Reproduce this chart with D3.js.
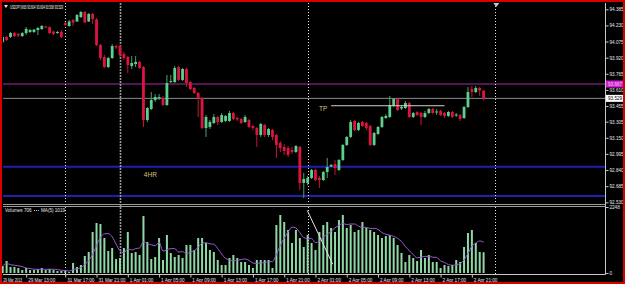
<!DOCTYPE html>
<html>
<head>
<meta charset="utf-8">
<script src="https://cdn.jsdelivr.net/npm/d3@7"></script>
<style>
body { margin: 0; background: #000; }
svg { display: block; }
text { font-family: "Liberation Sans", Arial, sans-serif; }
</style>
</head>
<body>
<script>
const width = 625;
const height = 284;

// USDJPY M30 candles, oldest first
const opens = [94.071,94.119,94.119,94.157,94.148,94.128,94.157,94.167,94.167,94.186,94.196,94.220,94.215,94.172,94.157,94.167,
  94.253,94.225,94.282,94.268,94.311,94.359,94.268,94.340,94.287,94.042,93.927,93.830,93.917,94.032,94.032,93.955,93.927,93.840,93.859,93.879,
  93.830,93.321,93.427,93.513,93.530,93.533,93.465,93.686,93.686,93.830,93.706,93.811,93.686,93.629,93.581,93.533,93.244,93.254,93.292,93.350,
  93.302,93.312,93.312,93.388,93.340,93.331,93.302,93.321,93.263,93.244,93.177,93.273,93.177,93.225,93.177,93.100,93.062,93.052,93.033,93.014,
  93.062,92.716,92.716,92.764,92.841,92.764,92.744,92.821,92.874,92.898,92.841,92.937,93.081,93.158,93.312,93.225,93.302,93.292,93.263,93.081,
  93.187,93.254,93.340,93.350,93.456,93.523,93.432,93.436,93.484,93.350,93.398,93.388,93.350,93.388,93.427,93.393,93.408,93.388,93.360,93.398,
  93.364,93.369,93.340,93.446,93.619,93.590,93.629,93.604];
const highs = [94.138,94.128,94.167,94.167,94.157,94.167,94.215,94.196,94.196,94.215,94.234,94.225,94.220,94.177,94.177,94.186,
  94.263,94.282,94.292,94.340,94.369,94.369,94.350,94.350,94.301,94.052,93.946,93.927,94.052,94.042,94.042,93.975,93.936,93.936,93.936,93.888,
  93.840,93.446,93.590,93.571,93.571,93.552,93.754,93.754,93.840,93.840,93.821,93.821,93.696,93.638,93.590,93.542,93.369,93.321,93.379,93.360,
  93.388,93.369,93.408,93.398,93.350,93.340,93.369,93.331,93.273,93.254,93.292,93.283,93.244,93.235,93.187,93.119,93.090,93.071,93.062,93.081,
  93.071,92.812,92.783,92.850,92.850,92.783,92.831,92.956,92.898,92.937,92.946,93.090,93.167,93.321,93.321,93.302,93.312,93.302,93.273,93.206,
  93.263,93.360,93.379,93.552,93.533,93.533,93.465,93.504,93.494,93.398,93.408,93.398,93.408,93.436,93.436,93.427,93.417,93.398,93.408,93.408,
  93.388,93.379,93.456,93.638,93.648,93.648,93.638,93.604];
const lows = [94.052,94.080,94.109,94.119,94.119,94.119,94.138,94.157,94.157,94.138,94.186,94.205,94.148,94.138,94.148,94.109,
  94.225,94.215,94.225,94.263,94.301,94.253,94.263,94.244,94.032,93.898,93.821,93.821,93.907,94.003,93.927,93.898,93.773,93.811,93.830,93.811,
  93.254,93.302,93.417,93.494,93.513,93.456,93.456,93.677,93.677,93.696,93.696,93.638,93.609,93.571,93.350,93.235,93.158,93.235,93.283,93.273,
  93.292,93.302,93.302,93.321,93.312,93.283,93.292,93.244,93.225,93.062,93.158,93.158,93.158,93.129,92.956,93.014,92.985,92.965,92.994,93.004,
  92.648,92.571,92.696,92.754,92.735,92.668,92.735,92.764,92.869,92.793,92.831,92.927,93.071,93.148,93.215,93.215,93.254,93.225,93.071,93.071,
  93.177,93.244,93.331,93.340,93.446,93.408,93.417,93.427,93.340,93.340,93.360,93.273,93.340,93.379,93.379,93.369,93.360,93.340,93.350,93.340,
  93.350,93.312,93.331,93.436,93.542,93.581,93.552,93.508];
const closes = [94.119,94.090,94.157,94.128,94.133,94.157,94.196,94.186,94.190,94.205,94.225,94.210,94.157,94.148,94.167,94.119,
  94.234,94.268,94.258,94.330,94.359,94.258,94.340,94.292,94.042,93.917,93.830,93.917,94.032,94.018,93.946,93.917,93.850,93.869,93.879,93.821,
  93.321,93.436,93.513,93.542,93.542,93.465,93.677,93.696,93.821,93.706,93.811,93.677,93.619,93.581,93.533,93.244,93.350,93.302,93.350,93.302,
  93.369,93.360,93.388,93.331,93.326,93.292,93.350,93.254,93.244,93.177,93.283,93.177,93.235,93.158,93.081,93.052,93.023,92.985,93.014,93.071,
  92.716,92.754,92.764,92.841,92.744,92.744,92.821,92.869,92.889,92.860,92.937,93.081,93.158,93.302,93.225,93.292,93.263,93.244,93.081,93.196,
  93.254,93.350,93.360,93.465,93.523,93.417,93.446,93.484,93.350,93.388,93.369,93.350,93.388,93.427,93.388,93.403,93.369,93.360,93.398,93.350,
  93.374,93.331,93.446,93.590,93.590,93.629,93.605,93.529];
const volumes = [238,409,204,204,170,102,170,102,102,136,170,102,136,102,68,68,
  68,34,341,204,272,579,715,1396,1703,1669,1192,749,851,477,511,851,1396,681,715,613,
  1941,1056,477,545,1192,443,1294,681,545,613,511,954,954,783,1192,1192,1022,783,715,443,
  272,272,511,613,511,375,375,272,170,443,443,443,443,170,1635,1975,1737,1465,1022,1465,
  1192,886,1294,1022,783,1396,1635,1737,1533,1396,1805,1975,1533,1635,1396,1465,1737,1533,1465,1396,
  1294,1192,1260,1294,1192,954,681,375,613,511,409,783,511,613,375,375,170,272,238,272,
  443,375,886,1362,1465,1022,715,706];

const timeTickIdx = [0, 6, 16, 24, 32, 40, 48, 56, 64, 72, 80, 88, 96, 104, 112, 120];
const timeTickLabels = ["29 Mar 2013", "29 Mar 13:00", "31 Mar 17:00", "31 Mar 21:00", "1 Apr 01:00", "1 Apr 05:00",
  "1 Apr 09:00", "1 Apr 13:00", "1 Apr 17:00", "1 Apr 21:00", "2 Apr 01:00", "2 Apr 05:00",
  "2 Apr 09:00", "2 Apr 13:00", "2 Apr 17:00", "2 Apr 21:00"];
const priceTicks = [94.385, 94.230, 94.075, 93.920, 93.765, 93.610, 93.455, 93.305, 93.150, 92.995, 92.840, 92.685, 92.530];
const separatorIdx = [16, 30, 78, 126];
const blueLevels = [92.872, 92.590];
const magentaLevel = 93.667;
const bidPrice = 93.529;
const tpLevel = 93.458;
const tpFrom = 84, tpTo = 113;
const trendPts = [[77.9, 2130], [84.4, 300]];

const bars = opens.map((o, i) => ({ i, o, h: highs[i], l: lows[i], c: closes[i], v: volumes[i] }));

const svg = d3.select("body").append("svg")
  .attr("width", width)
  .attr("height", height);

svg.append("rect").attr("width", width).attr("height", height).attr("fill", "#000");

const left = 3, right = 605;
const mainTop = 3, mainBottom = 203;
const volTop = 207, volBottom = 274;

const x = d3.scaleLinear().domain([0, 123]).range([2.7, 483.6]);
const y = d3.scaleLinear().domain([92.530, 94.385]).range([202.3, 9.3]);
const yv = d3.scaleLinear().domain([0, 2248]).range([273, 207]);

// clip for the price panel
svg.append("clipPath").attr("id", "mainClip")
  .append("rect").attr("x", left).attr("y", mainTop).attr("width", right - left).attr("height", mainBottom - mainTop);

// horizontal levels
svg.selectAll(".blue").data(blueLevels).enter().append("line")
  .attr("x1", left).attr("x2", right)
  .attr("y1", d => y(d)).attr("y2", d => y(d))
  .attr("stroke", "#1f1fb4").attr("stroke-width", 2);

svg.append("line")
  .attr("x1", left).attr("x2", right)
  .attr("y1", y(magentaLevel)).attr("y2", y(magentaLevel))
  .attr("stroke", "#a62ca6").attr("stroke-width", 1);

svg.append("line")
  .attr("x1", left).attr("x2", right)
  .attr("y1", y(bidPrice)).attr("y2", y(bidPrice))
  .attr("stroke", "#8c8c8c").attr("stroke-width", 1);

// period separators
svg.selectAll(".sep").data(separatorIdx).enter().append("line")
  .attr("x1", d => Math.round(x(d)) + 0.5).attr("x2", d => Math.round(x(d)) + 0.5)
  .attr("y1", mainTop).attr("y2", volBottom)
  .attr("stroke", d => d === 30 ? "#9a9a9a" : "#e6e6e6")
  .attr("stroke-width", d => d === 30 ? 1.6 : 1)
  .attr("stroke-dasharray", d => d === 30 ? "2,1" : "1,2");

// candles
const g = svg.append("g").attr("clip-path", "url(#mainClip)");
const bull = d => d.c >= d.o;

g.selectAll(".wick").data(bars).enter().append("line")
  .attr("x1", d => x(d.i)).attr("x2", d => x(d.i))
  .attr("y1", d => y(d.h)).attr("y2", d => y(d.l))
  .attr("stroke", d => bull(d) ? "#4f9e6c" : "#c8143a")
  .attr("stroke-width", 1);

g.selectAll(".body").data(bars).enter().append("rect")
  .attr("x", d => x(d.i) - 1.4)
  .attr("width", 2.8)
  .attr("y", d => y(Math.max(d.o, d.c)))
  .attr("height", d => Math.max(0.8, Math.abs(y(d.o) - y(d.c))))
  .attr("fill", d => bull(d) ? "#5ccf8a" : "#dc1440");

// TP line and notes
svg.append("line")
  .attr("x1", x(tpFrom)).attr("x2", x(tpTo))
  .attr("y1", y(tpLevel)).attr("y2", y(tpLevel))
  .attr("stroke", "#d0d0d0").attr("stroke-width", 1);

svg.append("text").text("TP")
  .attr("x", x(80.9)).attr("y", y(93.408))
  .attr("font-size", "6.5px").attr("fill", "#d6c77a");

svg.append("text").text("4HR")
  .attr("x", x(36.1)).attr("y", y(92.769))
  .attr("font-size", "6.5px").attr("fill", "#d6c77a");

// title
svg.append("path")
  .attr("d", "M4,5 L8,5 L6,8 Z")
  .attr("fill", "#e0e0e0");
svg.append("text").text("USDJPY,M30 93.604 93.604 93.508 93.529")
  .attr("x", 10).attr("y", 8.8)
  .attr("textLength", 53).attr("lengthAdjust", "spacingAndGlyphs")
  .attr("font-size", "5px").attr("fill", "#ffffff");

// chart shift marker
svg.append("path")
  .attr("d", `M${x(126) - 2},3 L${x(126) + 4},3 L${x(126) + 1},7 Z`)
  .attr("fill", "#c8c8c8");

// panel separator
svg.append("line").attr("x1", left).attr("x2", right).attr("y1", 204.5).attr("y2", 204.5).attr("stroke", "#9c9c9c");
svg.append("line").attr("x1", left).attr("x2", right).attr("y1", 206.5).attr("y2", 206.5).attr("stroke", "#9c9c9c");

// volumes
svg.selectAll(".vol").data(bars).enter().append("rect")
  .attr("x", d => x(d.i) - 1)
  .attr("width", 2)
  .attr("y", d => yv(d.v))
  .attr("height", d => yv(0) - yv(d.v))
  .attr("fill", "#8fd8a6");

const ma = bars.map((d, i) => ({ i, v: d3.mean(volumes.slice(Math.max(0, i - 4), i + 1)) }));
svg.append("path")
  .datum(ma)
  .attr("fill", "none")
  .attr("stroke", "#9a5ad2")
  .attr("stroke-width", 1)
  .attr("d", d3.line().x(d => x(d.i)).y(d => yv(d.v)).curve(d3.curveMonotoneX));

svg.append("line")
  .attr("x1", x(trendPts[0][0])).attr("y1", yv(trendPts[0][1]))
  .attr("x2", x(trendPts[1][0])).attr("y2", yv(trendPts[1][1]))
  .attr("stroke", "#e0e0e0").attr("stroke-width", 1);

svg.append("text").text("Volumes 706")
  .attr("x", 5).attr("y", 212)
  .attr("font-size", "4.6px").attr("fill", "#e8e8e8");
svg.append("line").attr("x1", 34).attr("x2", 39).attr("y1", 210.5).attr("y2", 210.5)
  .attr("stroke", "#c0c0c0").attr("stroke-dasharray", "1,1");
svg.append("text").text("MA(5) 1019")
  .attr("x", 41).attr("y", 212)
  .attr("font-size", "4.6px").attr("fill", "#e8e8e8");

// axes frame
svg.append("line").attr("x1", right + 0.5).attr("x2", right + 0.5).attr("y1", mainTop).attr("y2", volBottom + 0.5)
  .attr("stroke", "#c8c8c8");
svg.append("line").attr("x1", left).attr("x2", right + 0.5).attr("y1", volBottom + 0.5).attr("y2", volBottom + 0.5)
  .attr("stroke", "#c8c8c8");

// price axis
const yAxis = d3.axisRight(y).tickValues(priceTicks).tickSize(3).tickPadding(1).tickFormat(d3.format(".3f"));
const ya = svg.append("g").attr("transform", `translate(${right + 0.5},0)`).call(yAxis);
ya.select(".domain").remove();
ya.selectAll("line").attr("stroke", "#c8c8c8");
ya.selectAll("text").attr("fill", "#e8e8e8").attr("font-size", "4.6px").attr("font-family", "Liberation Sans, Arial, sans-serif");

// level labels on the price axis
function levelTag(price, bg, fg) {
  svg.append("rect")
    .attr("x", right + 1).attr("y", y(price) - 3.5)
    .attr("width", 18).attr("height", 7)
    .attr("fill", bg);
  svg.append("text").text(d3.format(".3f")(price))
    .attr("x", right + 3).attr("y", y(price) + 1.7)
    .attr("font-size", "4.6px").attr("fill", fg);
}
levelTag(magentaLevel, "#d21fd2", "#f4c8f4");
levelTag(bidPrice, "#ffffff", "#000000");

// volume axis
const vAxis = d3.axisRight(yv).tickValues([2248, 0]).tickSize(3).tickPadding(1).tickFormat(d3.format("d"));
const va = svg.append("g").attr("transform", `translate(${right + 0.5},0)`).call(vAxis);
va.select(".domain").remove();
va.selectAll("line").attr("stroke", "#c8c8c8");
va.selectAll("text").attr("fill", "#e8e8e8").attr("font-size", "4.6px").attr("font-family", "Liberation Sans, Arial, sans-serif");

// time axis
const xAxis = d3.axisBottom(x).tickValues(timeTickIdx).tickSize(3).tickFormat((d, i) => timeTickLabels[i]);
const xa = svg.append("g").attr("transform", `translate(0,${volBottom + 0.5})`).call(xAxis);
xa.select(".domain").remove();
xa.selectAll("line").attr("stroke", "#c8c8c8");
xa.selectAll("text")
  .attr("text-anchor", "start").attr("dx", 1.5).attr("y", 7.2).attr("dy", 0)
  .attr("fill", "#e8e8e8").attr("font-size", "4.6px").attr("font-family", "Liberation Sans, Arial, sans-serif");
xa.selectAll(".tick").filter(d => d === 0).select("text")
  .attr("dx", 0).attr("textLength", 19).attr("lengthAdjust", "spacingAndGlyphs");
xa.selectAll(".tick").filter(d => d === 0).select("line").remove();

// window frame
svg.append("rect")
  .attr("x", 1).attr("y", 1).attr("width", width - 2).attr("height", height - 2)
  .attr("fill", "none").attr("stroke", "#d40000").attr("stroke-width", 2);
</script>
</body>
</html>
